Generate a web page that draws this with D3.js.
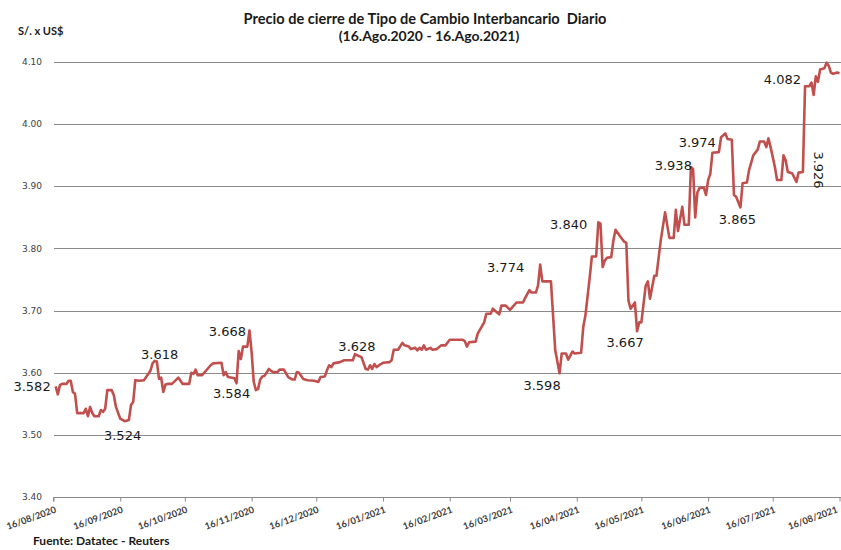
<!DOCTYPE html>
<html>
<head>
<meta charset="utf-8">
<script src="https://cdn.jsdelivr.net/npm/d3@7"></script>
<style>
  body { margin: 0; background: #fff; }
  svg { display: block; }
  .grid line { shape-rendering: crispEdges; }
</style>
</head>
<body>
<div id="chart"></div>
<script>
// ---- data ----
var fechas = [
  "17/08/2020","18/08/2020","19/08/2020","20/08/2020","22/08/2020","23/08/2020","24/08/2020","25/08/2020","26/08/2020","27/08/2020",
  "30/08/2020","31/08/2020","01/09/2020","02/09/2020","03/09/2020","04/09/2020","06/09/2020","07/09/2020","08/09/2020","09/09/2020",
  "10/09/2020","12/09/2020","13/09/2020","14/09/2020","16/09/2020","18/09/2020","20/09/2020","21/09/2020","22/09/2020","23/09/2020",
  "25/09/2020","27/09/2020","29/09/2020","30/09/2020","01/10/2020","02/10/2020","03/10/2020","04/10/2020","05/10/2020","06/10/2020",
  "07/10/2020","08/10/2020","10/10/2020","13/10/2020","15/10/2020","18/10/2020","19/10/2020","20/10/2020","21/10/2020","22/10/2020",
  "24/10/2020","26/10/2020","28/10/2020","29/10/2020","02/11/2020","03/11/2020","04/11/2020","05/11/2020","07/11/2020","08/11/2020",
  "09/11/2020","10/11/2020","11/11/2020","12/11/2020","14/11/2020","15/11/2020","16/11/2020","17/11/2020","18/11/2020","19/11/2020",
  "20/11/2020","21/11/2020","22/11/2020","24/11/2020","25/11/2020","26/11/2020","28/11/2020","29/11/2020","01/12/2020","03/12/2020",
  "05/12/2020","06/12/2020","07/12/2020","08/12/2020","10/12/2020","12/12/2020","15/12/2020","17/12/2020","18/12/2020","20/12/2020",
  "21/12/2020","22/12/2020","23/12/2020","24/12/2020","27/12/2020","29/12/2020","02/01/2021","03/01/2021","04/01/2021","06/01/2021",
  "08/01/2021","09/01/2021","10/01/2021","11/01/2021","12/01/2021","13/01/2021","15/01/2021","16/01/2021","19/01/2021","20/01/2021",
  "21/01/2021","23/01/2021","25/01/2021","26/01/2021","28/01/2021","29/01/2021","31/01/2021","01/02/2021","02/02/2021","03/02/2021",
  "04/02/2021","05/02/2021","07/02/2021","08/02/2021","10/02/2021","12/02/2021","14/02/2021","16/02/2021","22/02/2021","23/02/2021",
  "24/02/2021","25/02/2021","28/02/2021","01/03/2021","04/03/2021","05/03/2021","07/03/2021","08/03/2021","10/03/2021","11/03/2021",
  "12/03/2021","14/03/2021","16/03/2021","19/03/2021","22/03/2021","23/03/2021","25/03/2021","26/03/2021","28/03/2021","29/03/2021",
  "30/03/2021","31/03/2021","04/04/2021","06/04/2021","08/04/2021","09/04/2021","11/04/2021","12/04/2021","14/04/2021","15/04/2021",
  "18/04/2021","19/04/2021","20/04/2021","22/04/2021","23/04/2021","25/04/2021","26/04/2021","27/04/2021","28/04/2021","29/04/2021",
  "30/04/2021","02/05/2021","03/05/2021","04/05/2021","06/05/2021","08/05/2021","09/05/2021","10/05/2021","11/05/2021","13/05/2021",
  "14/05/2021","15/05/2021","16/05/2021","18/05/2021","19/05/2021","20/05/2021","22/05/2021","23/05/2021","25/05/2021","27/05/2021",
  "29/05/2021","31/05/2021","01/06/2021","02/06/2021","04/06/2021","05/06/2021","07/06/2021","08/06/2021","09/06/2021","10/06/2021",
  "11/06/2021","12/06/2021","14/06/2021","15/06/2021","16/06/2021","17/06/2021","18/06/2021","21/06/2021","22/06/2021","24/06/2021",
  "25/06/2021","27/06/2021","28/06/2021","29/06/2021","01/07/2021","02/07/2021","04/07/2021","05/07/2021","07/07/2021","09/07/2021",
  "10/07/2021","12/07/2021","13/07/2021","14/07/2021","15/07/2021","17/07/2021","18/07/2021","20/07/2021","21/07/2021","22/07/2021",
  "23/07/2021","25/07/2021","27/07/2021","28/07/2021","30/07/2021","31/07/2021","02/08/2021","03/08/2021","04/08/2021","05/08/2021",
  "06/08/2021","07/08/2021","09/08/2021","10/08/2021","11/08/2021","12/08/2021","13/08/2021","15/08/2021","16/08/2021"
];
var tipoCambio = [
  3.578,3.565,3.580,3.582,3.582,3.587,3.587,3.569,3.566,3.535,
  3.535,3.542,3.530,3.545,3.535,3.530,3.530,3.540,3.537,3.542,
  3.572,3.572,3.564,3.545,3.526,3.522,3.524,3.548,3.553,3.588,
  3.587,3.588,3.598,3.603,3.615,3.619,3.618,3.590,3.592,3.569,
  3.581,3.582,3.582,3.592,3.582,3.582,3.600,3.598,3.605,3.596,
  3.596,3.604,3.612,3.615,3.616,3.596,3.601,3.593,3.592,3.591,
  3.583,3.635,3.622,3.642,3.642,3.668,3.633,3.585,3.572,3.574,
  3.589,3.594,3.595,3.606,3.603,3.601,3.601,3.605,3.605,3.593,
  3.589,3.589,3.601,3.600,3.590,3.588,3.587,3.585,3.593,3.594,
  3.604,3.612,3.609,3.615,3.617,3.620,3.620,3.630,3.628,3.625,
  3.606,3.605,3.612,3.606,3.614,3.609,3.614,3.616,3.617,3.620,
  3.637,3.637,3.648,3.644,3.642,3.638,3.640,3.636,3.640,3.637,
  3.644,3.637,3.640,3.637,3.638,3.644,3.644,3.653,3.653,3.651,
  3.642,3.649,3.650,3.663,3.681,3.695,3.695,3.703,3.697,3.694,
  3.708,3.708,3.701,3.713,3.713,3.720,3.733,3.729,3.729,3.740,
  3.774,3.747,3.747,3.636,3.599,3.631,3.631,3.621,3.634,3.631,
  3.632,3.673,3.692,3.753,3.787,3.787,3.842,3.840,3.770,3.780,
  3.785,3.786,3.813,3.830,3.820,3.811,3.809,3.716,3.703,3.713,
  3.667,3.681,3.681,3.740,3.747,3.719,3.756,3.756,3.813,3.858,
  3.817,3.817,3.862,3.828,3.867,3.838,3.838,3.931,3.928,3.850,
  3.890,3.897,3.898,3.886,3.910,3.920,3.954,3.955,3.979,3.985,
  3.976,3.975,3.886,3.883,3.866,3.905,3.906,3.926,3.950,3.959,
  3.972,3.972,3.963,3.977,3.963,3.931,3.910,3.910,3.950,3.942,
  3.923,3.921,3.907,3.922,3.923,4.061,4.061,4.067,4.047,4.077,
  4.068,4.088,4.090,4.099,4.094,4.083,4.081,4.083,4.082
];

var yTicks = [3.40, 3.50, 3.60, 3.70, 3.80, 3.90, 4.00, 4.10];
var xTicks = ["16/08/2020","16/09/2020","16/10/2020","16/11/2020","16/12/2020","16/01/2021","16/02/2021",
              "16/03/2021","16/04/2021","16/05/2021","16/06/2021","16/07/2021","16/08/2021"];

// data labels shown on the line
var etiquetas = ["3.582","3.524","3.618","3.668","3.584","3.628","3.774","3.598","3.840","3.667","3.938","3.974","3.865","3.926","4.082"];
var etiquetaFechas = ["17/08/2020","18/09/2020","02/10/2020","15/11/2020","09/11/2020","03/01/2021","30/03/2021","08/04/2021",
                      "26/04/2021","14/05/2021","08/06/2021","24/06/2021","01/07/2021","30/07/2021","16/08/2021"];

var titulo1 = "Precio de cierre de Tipo de Cambio Interbancario  Diario";
var titulo2 = "(16.Ago.2020 - 16.Ago.2021)";
var unidad = "S/. x US$";
var fuente = "Fuente: Datatec - Reuters";

// ---- layout ----
var W = 841, H = 550;
var plot = {left: 53.5, right: 839.5, top: 62, bottom: 497};
var parse = d3.timeParse("%d/%m/%Y");

// label placement relative to the point: [anchor, dx, dy, rotate]
var labelPos = [
  ["end", -5, 0, 0], ["middle", -2, 14, 0], ["middle", 5, -7, 0], ["end", -3.5, 1, 0],
  ["middle", -5, 10, 0], ["middle", 2, -8, 0], ["end", -16, 2.5, 0], ["middle", -17.5, 12, 0],
  ["end", -11, 2, 0], ["middle", -12, 11, 0], ["end", 1, -1.5, 0], ["end", -9.5, 8.5, 0],
  ["middle", -3, 12, 0], ["middle", 15.5, -2, 90], ["end", -38.5, 6, 0]
];

var data = fechas.map(function(f, i) { return {date: parse(f), value: tipoCambio[i]}; });
var byDate = {};
fechas.forEach(function(f, i) { byDate[f] = tipoCambio[i]; });

var x = d3.scaleTime()
  .domain([parse(xTicks[0]), parse(xTicks[xTicks.length - 1])])
  .range([plot.left, plot.right]);
var y = d3.scaleLinear().domain([3.40, 4.10]).range([plot.bottom, plot.top]);

var svg = d3.select("#chart").append("svg")
  .attr("width", W).attr("height", H);

svg.append("rect").attr("width", W).attr("height", H).attr("fill", "#fff");

var defs = svg.append("defs");
defs.append("filter").attr("id", "glow")
  .attr("x", "-5%").attr("y", "-200%").attr("width", "110%").attr("height", "500%")
  .append("feGaussianBlur").attr("stdDeviation", 2.5);

// gridlines with soft shadow band
var grid = svg.append("g").attr("class", "grid");
grid.selectAll(".halo").data(yTicks.slice(1)).enter().append("line")
  .attr("class", "halo")
  .attr("x1", plot.left - 12).attr("x2", W)
  .attr("y1", function(d) { return y(d); }).attr("y2", function(d) { return y(d); })
  .attr("stroke", "#d8e0ee").attr("stroke-width", 9)
  .attr("filter", "url(#glow)");
grid.selectAll(".gl").data(yTicks.slice(1)).enter().append("line")
  .attr("class", "gl")
  .attr("x1", plot.left).attr("x2", W)
  .attr("y1", function(d) { return Math.round(y(d)) + 0.5; })
  .attr("y2", function(d) { return Math.round(y(d)) + 0.5; })
  .attr("stroke", "#8a8a8a").attr("stroke-width", 1);

// y labels
svg.append("g").selectAll("text").data(yTicks).enter().append("text")
  .attr("x", 42).attr("y", function(d) { return y(d); })
  .attr("dy", "0.35em")
  .attr("text-anchor", "end")
  .attr("font-family", "DejaVu Sans, Verdana, sans-serif")
  .attr("font-size", 9)
  .attr("fill", "#404040")
  .text(function(d) { return d.toFixed(2); });

// x axis
var xAxis = svg.append("g")
  .attr("transform", "translate(0," + (Math.round(plot.bottom) + 0.5) + ")")
  .call(d3.axisBottom(x).tickValues(xTicks.map(parse)).tickSize(4).tickFormat(""));
xAxis.select(".domain").attr("stroke", "#8a8a8a").attr("d", "M" + plot.left + ",4V0H" + W);
xAxis.selectAll(".tick line").attr("stroke", "#8a8a8a");

svg.append("g").selectAll("text").data(xTicks).enter().append("text")
  .attr("transform", function(d) {
    var tx = Math.min(x(parse(d)) + 1, W - 5);
    return "translate(" + tx + "," + (plot.bottom + 9) + ") rotate(-20)";
  })
  .attr("text-anchor", "end")
  .attr("dy", "0.7em")
  .attr("font-family", "Lato, 'Open Sans', sans-serif")
  .attr("font-weight", "bold")
  .attr("font-size", 9.3)
  .attr("fill", "#404040")
  .text(function(d) { return d; });

// the series
var line = d3.line()
  .x(function(d) { return x(d.date); })
  .y(function(d) { return y(d.value); });

svg.append("path").datum(data)
  .attr("d", line)
  .attr("fill", "none")
  .attr("stroke", "#c0504d")
  .attr("stroke-width", 2.6)
  .attr("stroke-linejoin", "round");

// data labels
svg.append("g").selectAll("text").data(etiquetas).enter().append("text")
  .attr("transform", function(d, i) {
    var p = labelPos[i], f = etiquetaFechas[i];
    var px = x(parse(f)) + p[1], py = y(byDate[f]) + p[2];
    return "translate(" + px + "," + py + ")" + (p[3] ? " rotate(" + p[3] + ")" : "");
  })
  .attr("text-anchor", function(d, i) { return labelPos[i][0]; })
  .attr("dy", "0.36em")
  .attr("font-family", "DejaVu Sans, Verdana, sans-serif")
  .attr("font-size", 13)
  .attr("fill", "#1a1a1a")
  .text(function(d) { return d; });

// titles
svg.append("text").attr("x", 425).attr("y", 24)
  .attr("text-anchor", "middle").style("white-space", "pre")
  .attr("font-family", "Lato, sans-serif").attr("font-weight", "bold").attr("font-size", 14.6)
  .attr("fill", "#1a1a1a").text(titulo1);
svg.append("text").attr("x", 429).attr("y", 41)
  .attr("text-anchor", "middle")
  .attr("font-family", "Lato, sans-serif").attr("font-weight", "bold").attr("font-size", 14)
  .attr("fill", "#1a1a1a").text(titulo2);
svg.append("text").attr("x", 18).attr("y", 35)
  .attr("font-family", "Lato, sans-serif").attr("font-weight", "bold").attr("font-size", 11)
  .attr("fill", "#1a1a1a").text(unidad);
svg.append("text").attr("x", 33).attr("y", 545)
  .attr("font-family", "Lato, sans-serif").attr("font-weight", "bold").attr("font-size", 12)
  .attr("fill", "#1a1a1a").text(fuente);
</script>
</body>
</html>
